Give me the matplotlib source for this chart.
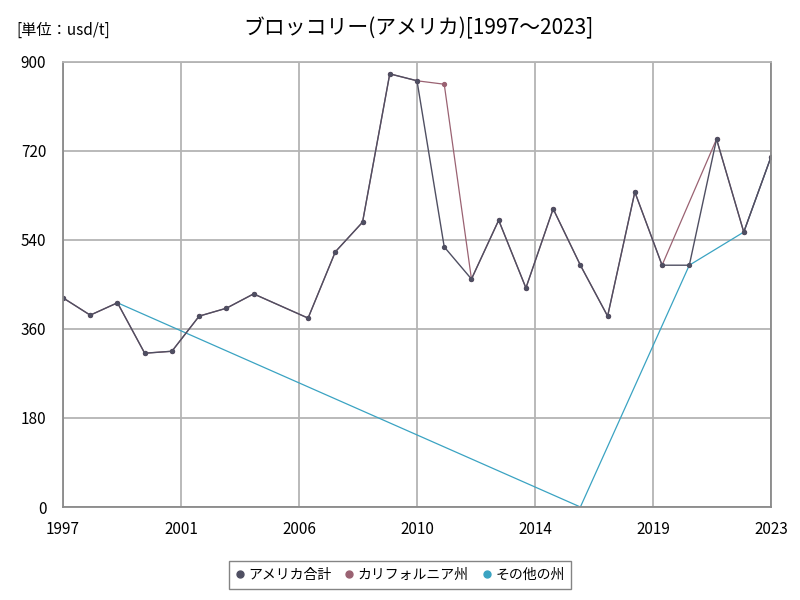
import numpy as np
import matplotlib.pyplot as plt

plt.rcParams['font.family'] = ['Noto Sans CJK JP', 'DejaVu Sans']

nan = np.nan
years = [1997, 1998, 1999, 2000, 2001, 2002, 2003, 2004, 2006, 2007, 2008, 2009,
         2010, 2011, 2012, 2013, 2014, 2015, 2016, 2017, 2018, 2019, 2020, 2021,
         2022, 2023]
total = [423, 388, 413, 311, 315, 386, 402, 431, 382, 516, 576, 876,
         862, 526, 461, 580, 443, 603, 489, 386, 637, 489, 489, 744,
         556, 708]
california = [423, 388, 413, 311, 315, 386, 402, 431, 382, 516, 576, 876,
              862, 855, 461, 580, 443, 603, 489, 386, 637, 489, nan, 744,
              556, 708]
other = [nan, nan, 413, nan, nan, nan, nan, nan, nan, nan, nan, nan,
         nan, nan, nan, nan, nan, nan, 0, nan, nan, nan, 489, nan,
         556, 708]

c_total = '#4f4f62'
c_cal = '#9a6272'
c_other = '#3aa3c2'

fig = plt.figure(figsize=(8, 6), dpi=100)
ax = fig.add_axes([0.07875, 0.155, 0.885, 0.7417])

yrs = np.array(years, dtype=float)

def draw(vals, color, lw, ms, label):
    v = np.array(vals, dtype=float)
    m = ~np.isnan(v)
    ax.plot(yrs[m], v[m], color=color, lw=lw, marker='o', ms=ms, label=label)

draw(other, c_other, 0.9, 0, 'その他の州')
draw(california, c_cal, 0.9, 2.8, 'カリフォルニア州')
draw(total, c_total, 1.0, 2.8, 'アメリカ合計')

ax.set_xlim(1997, 2023)
ax.set_ylim(0, 900)
xt = [1997 + 26 * k / 6 for k in range(7)]
ax.set_xticks(xt)
ax.set_xticklabels([str(int(round(t))) for t in xt], fontsize=11)
ax.set_yticks(range(0, 901, 180))
ax.set_yticklabels([str(t) for t in range(0, 901, 180)], fontsize=11)
ax.tick_params(length=0)
ax.tick_params(axis='x', pad=10)
ax.tick_params(axis='y', pad=12)
ax.grid(color='#b4b4b4', lw=1.3)
for s in ax.spines.values():
    s.set_color('#8a8a8a')
    s.set_linewidth(1.3)
ax.spines['top'].set_color('#b4b4b4')

h, l = ax.get_legend_handles_labels()
order = [2, 1, 0]
leg = fig.legend([h[i] for i in order], [l[i] for i in order], loc='center',
                 bbox_to_anchor=(0.5, 0.042), ncol=3, fontsize=10,
                 frameon=True, fancybox=False, edgecolor='#666666',
                 handlelength=0.6, handletextpad=0.3, columnspacing=1.0,
                 borderpad=0.5)
for lh, c in zip(leg.legend_handles, [c_total, c_cal, c_other]):
    lh.set_linestyle('none')
    lh.set_marker('o')
    lh.set_markersize(5)
    lh.set_color(c)

fig.text(0.02, 0.95, '[単位：usd/t]', fontsize=11, va='center')
fig.text(0.523, 0.953, 'ブロッコリー(アメリカ)[1997～2023]', fontsize=15,
         ha='center', va='center')

fig.savefig('out.png')
